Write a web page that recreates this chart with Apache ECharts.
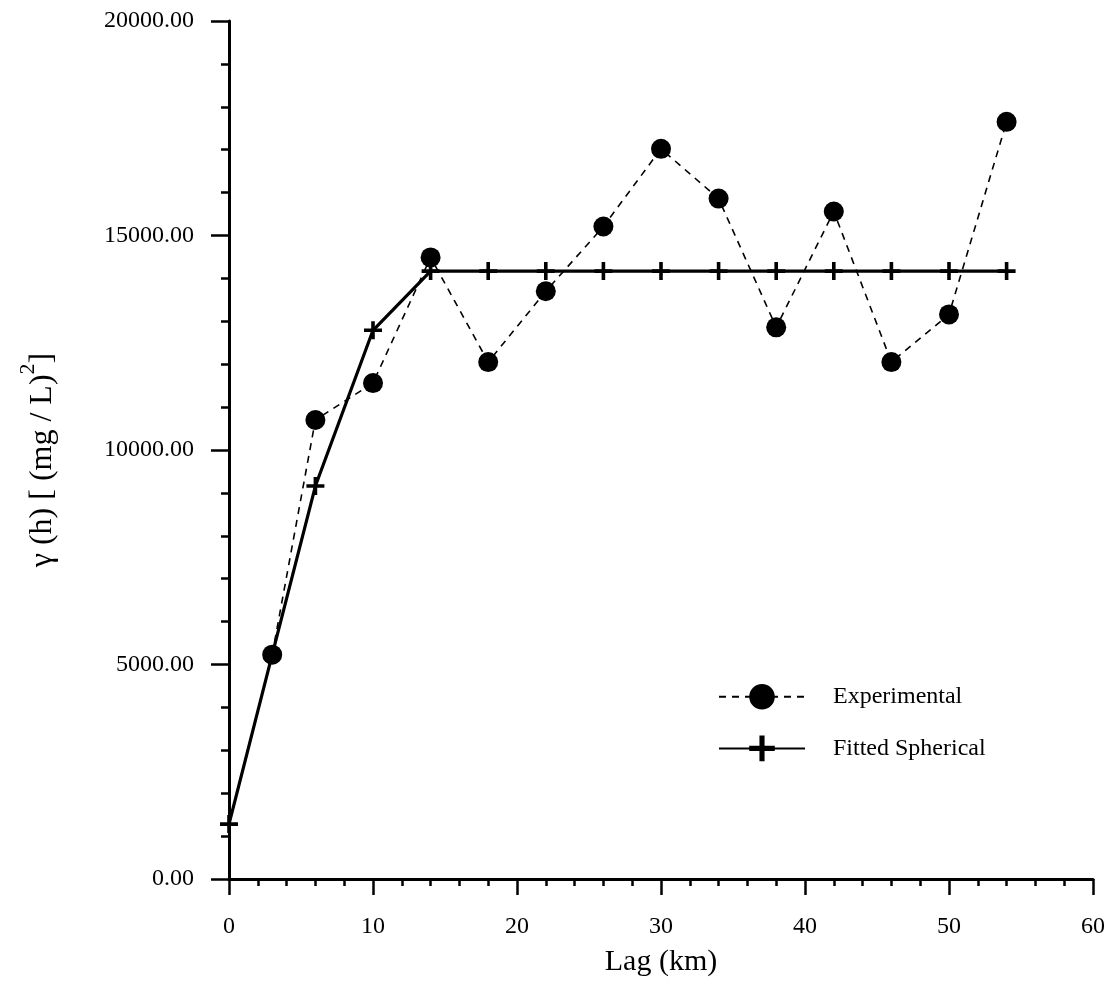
<!DOCTYPE html>
<html>
<head>
<meta charset="utf-8">
<script src="https://cdn.jsdelivr.net/npm/echarts@6/dist/echarts.min.js"></script>
<style>html,body{margin:0;padding:0;background:#fff}#c{width:1111px;height:984px}</style>
</head>
<body>
<div id="c"></div>
<script>
const expLag = [3, 6, 10, 14, 18, 22, 26, 30, 34, 38, 42, 46, 50, 54];
const expGamma = [5230, 10700, 11560, 14490, 12050, 13700, 15210, 17020, 15860, 12860, 15560, 12050, 13160, 17650];
const fitLag = [0, 3, 6, 10, 14, 18, 22, 26, 30, 34, 38, 42, 46, 50, 54];
const fitGamma = [1280, 5230, 9160, 12790, 14170, 14170, 14170, 14170, 14170, 14170, 14170, 14170, 14170, 14170, 14170];
const seriesNames = ['Experimental', 'Fitted Spherical'];
const xTicks = { min: 0, max: 60, interval: 10 };
const yTicks = { min: 0, max: 20000, interval: 5000 };

const FONT = '"Liberation Serif", "DejaVu Serif", serif';
const plus = 'path://M-1.8,-9 L1.8,-9 L1.8,9 L-1.8,9 Z M-9,-1.8 L9,-1.8 L9,1.8 L-9,1.8 Z';

const chart = echarts.init(document.getElementById('c'), null, { renderer: 'canvas' });
chart.setOption({
  animation: false,
  backgroundColor: '#fff',
  grid: { left: 229, right: 18, top: 21, bottom: 105 },
  legend: {
    orient: 'vertical',
    left: 713,
    top: 679,
    itemWidth: 86,
    itemHeight: 32,
    itemGap: 26,
    data: seriesNames,
    textStyle: { fontFamily: FONT, fontSize: 24, color: '#000', padding: [0, 0, 0, 23] }
  },
  xAxis: {
    type: 'value',
    min: xTicks.min, max: xTicks.max, interval: xTicks.interval,
    name: 'Lag (km)',
    nameLocation: 'middle',
    nameGap: 68,
    nameTextStyle: { fontFamily: FONT, fontSize: 30, color: '#000' },
    axisLine: { show: true, onZero: false, lineStyle: { color: '#000', width: 3 } },
    axisTick: { show: true, inside: false, length: 16, lineStyle: { color: '#000', width: 2.5 } },
    minorTick: { show: true, splitNumber: 5, length: 7, lineStyle: { color: '#000', width: 2.5 } },
    splitLine: { show: false },
    axisLabel: { fontFamily: FONT, fontSize: 24, color: '#000', margin: 36 }
  },
  yAxis: {
    type: 'value',
    min: yTicks.min, max: yTicks.max, interval: yTicks.interval,
    name: '{a|γ (h) [ (mg / L)}{s|2}{e|]}',
    nameLocation: 'middle',
    nameGap: 170,
    nameTextStyle: {
      fontFamily: FONT, color: '#000',
      rich: {
        a: { fontFamily: FONT, fontSize: 32, color: '#000', verticalAlign: 'bottom', lineHeight: 42 },
        s: { fontFamily: FONT, fontSize: 22, color: '#000', verticalAlign: 'top', lineHeight: 42, padding: [0, 0, 16, 0] },
        e: { fontFamily: FONT, fontSize: 32, color: '#000', verticalAlign: 'bottom', lineHeight: 42, padding: [0, 20, 0, 0] }
      }
    },
    axisLine: { show: true, onZero: false, lineStyle: { color: '#000', width: 3 } },
    axisTick: { show: true, inside: false, length: 18, lineStyle: { color: '#000', width: 2.5 } },
    minorTick: { show: true, splitNumber: 5, length: 8, lineStyle: { color: '#000', width: 2.5 } },
    splitLine: { show: false },
    axisLabel: {
      fontFamily: FONT, fontSize: 24, color: '#000', margin: 35,
      formatter: v => v.toFixed(2)
    }
  },
  series: [
    {
      name: seriesNames[0],
      type: 'line',
      data: expLag.map((x, i) => [x, expGamma[i]]),
      symbol: 'circle',
      symbolSize: 20,
      itemStyle: { color: '#000' },
      lineStyle: { color: '#000', width: 1.6, type: [7, 6] },
      z: 3
    },
    {
      name: seriesNames[1],
      type: 'line',
      data: fitLag.map((x, i) => [x, fitGamma[i]]),
      symbol: plus,
      symbolSize: 18,
      itemStyle: { color: '#000' },
      lineStyle: { color: '#000', width: 3.2 },
      z: 2
    }
  ]
});
</script>
</body>
</html>
